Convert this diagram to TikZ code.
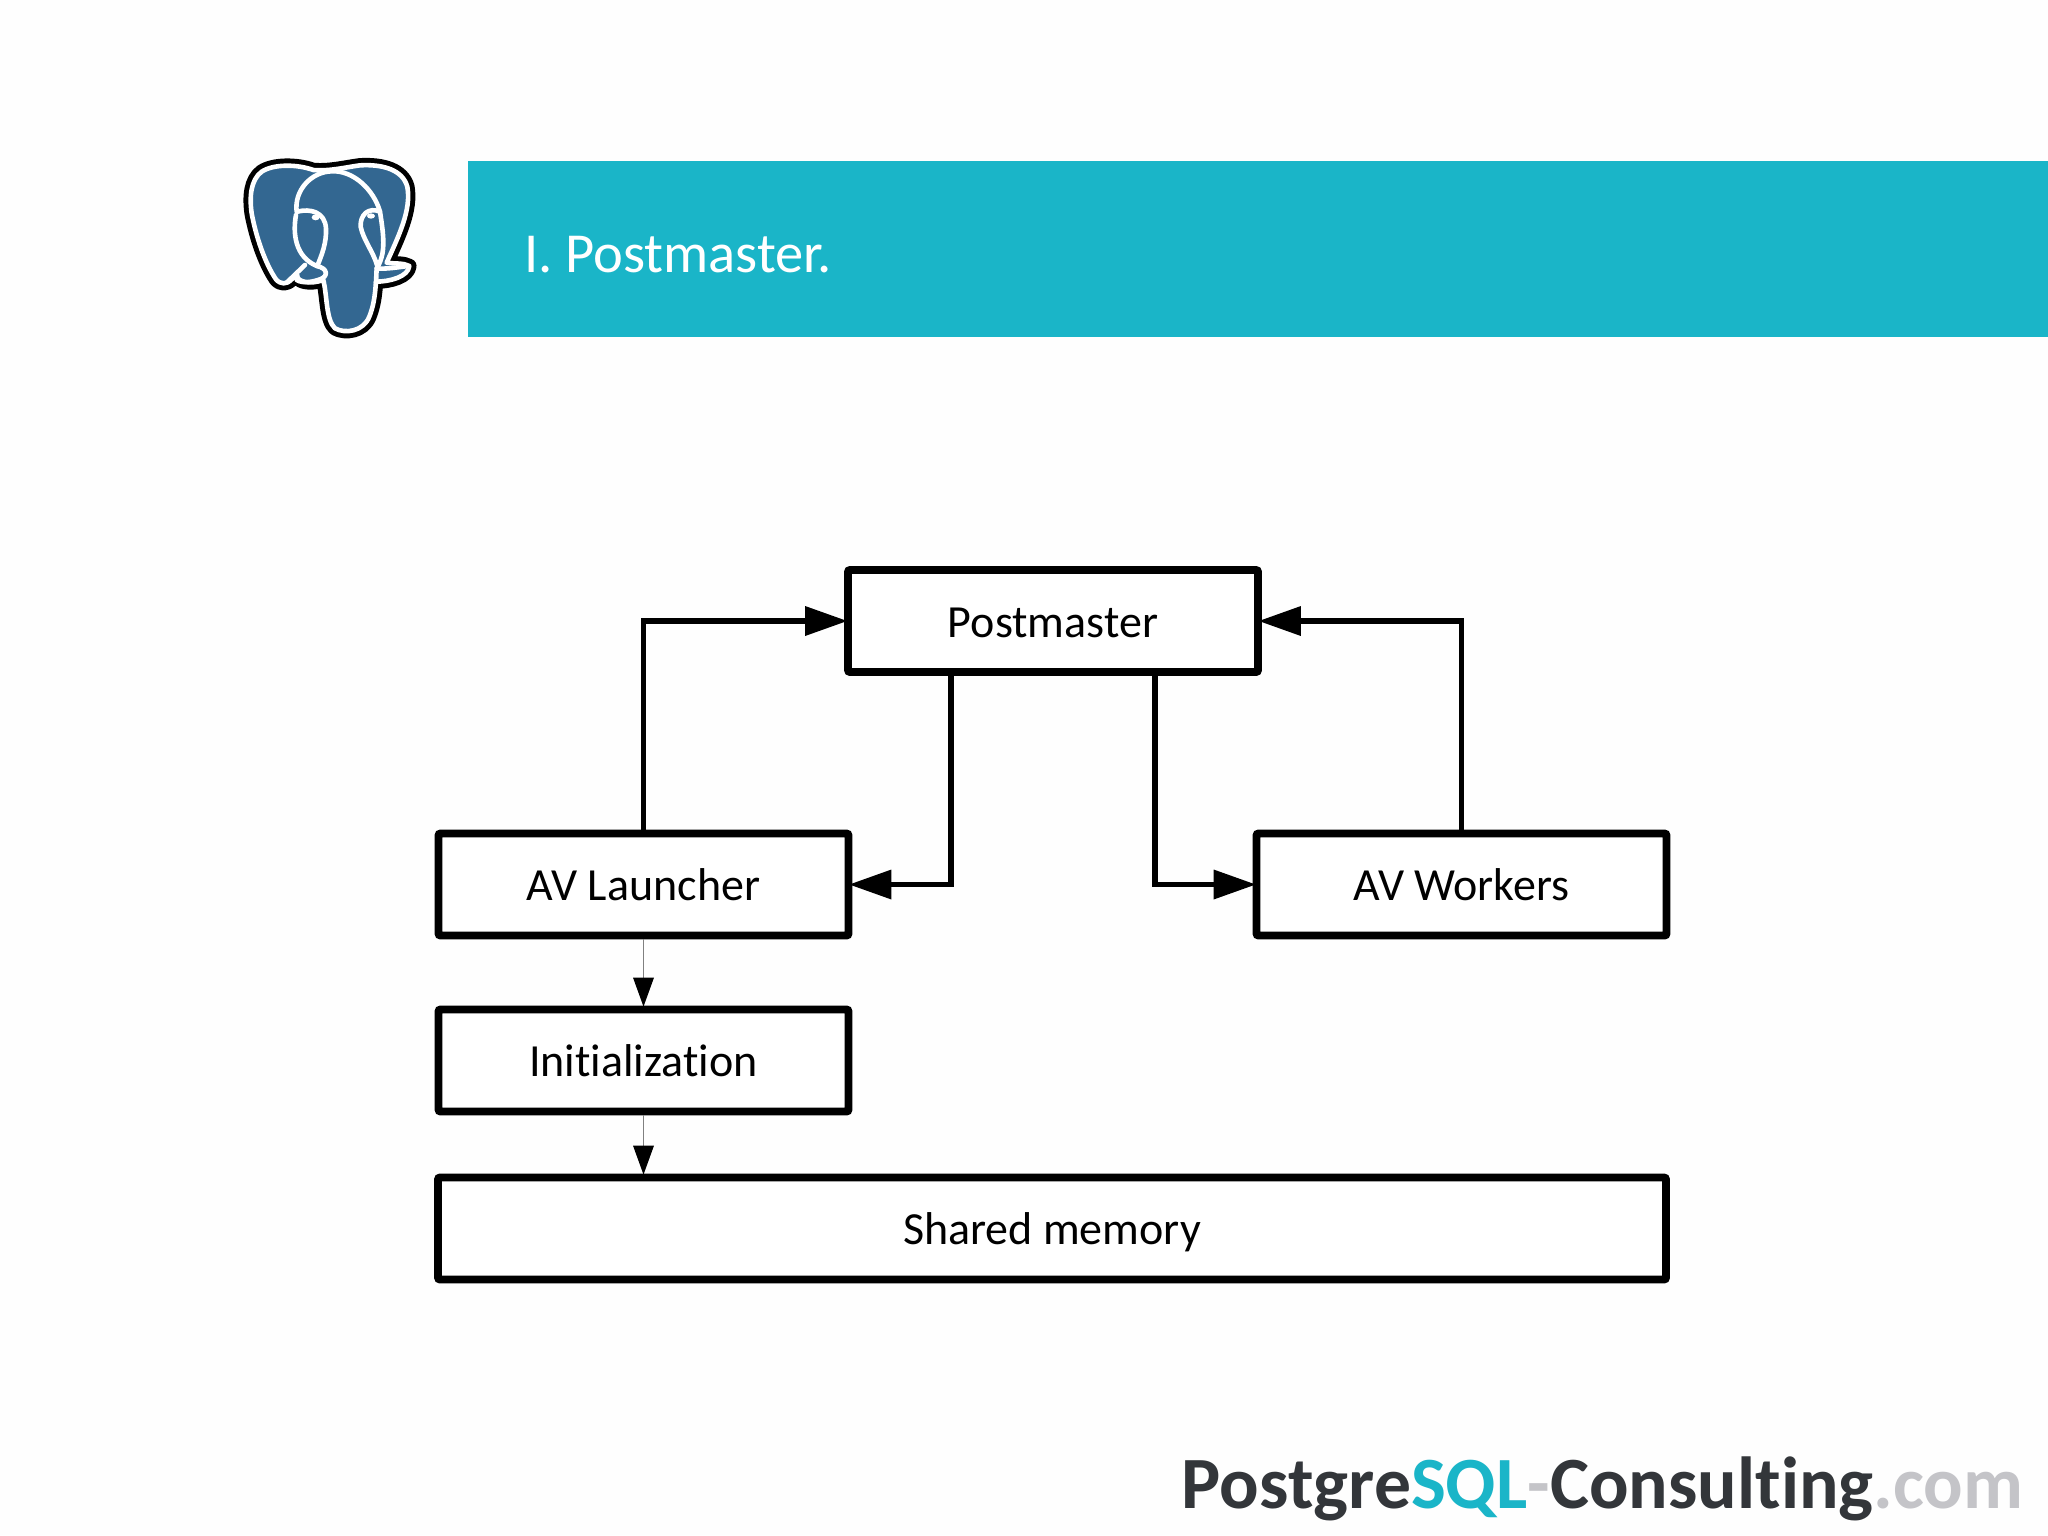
\documentclass[tikz,border=0pt]{standalone}
\usepackage{fontspec}
\setmainfont[Ligatures=NoCommon]{Carlito}
\usetikzlibrary{arrows.meta}
\definecolor{barteal}{RGB}{26,181,200}
\definecolor{pgblue}{RGB}{51,103,145}
\definecolor{logodark}{RGB}{51,54,58}
\definecolor{logogray}{RGB}{196,196,200}
\tikzset{
  procbox/.style={draw=black,line width=7.8pt,fill=white,minimum height=102pt,rounded corners=2pt,
    font=\fontsize{46}{50}\selectfont,text=black,inner sep=0pt,text height=40pt,text depth=8pt},
  smallbox/.style={procbox,minimum width=410pt},
  bigarrow/.style={line width=5.5pt,shorten >=-3pt,-{Triangle[length=42pt,width=30pt,line width=0pt]}},
  thinarrow/.style={draw=gray,line width=1pt,shorten >=-1pt,-{Triangle[length=29pt,width=21pt,line width=0pt,color=black,fill=black]}},
  pgoutline/.style={line join=round,line cap=round},
  pgline/.style={draw=white,line width=4.6pt,line join=round,line cap=round}
}
\begin{document}
\begin{tikzpicture}[x=1pt,y=-1pt]
\useasboundingbox (0,0) rectangle (2048,1535);
\fill[white!99.5!black] (0,0) rectangle (2048,1535);

\fill[barteal] (467.5,160.5) rectangle (2048,337);
\node[anchor=base west,text=white,font=\fontsize{56.5}{60}\selectfont,inner sep=0pt] (title) at (524,272) {I. Postmaster.};

% elephant
\begin{scope}[shift={(220,140)},x=0.3333pt,y=-0.3333pt]
\def\pgbody{(280,90) .. controls (230,72) and (160,72) .. (125,95)
  .. controls (92,120) and (88,170) .. (95,220)
  .. controls (108,290) and (135,370) .. (168,418)
  .. controls (182,434) and (200,434) .. (215,418)
  -- (232,405) .. controls (228,425) and (270,435) .. (310,420)
  .. controls (322,470) and (318,540) .. (345,565)
  .. controls (375,582) and (430,575) .. (448,530)
  .. controls (460,500) and (465,470) .. (468,425)
  .. controls (510,425) and (565,410) .. (568,378)
  .. controls (550,368) and (525,372) .. (500,368)
  .. controls (535,290) and (575,210) .. (562,140)
  .. controls (548,90) and (490,72) .. (420,76)
  .. controls (375,82) and (330,94) .. (280,90) -- cycle}
\draw[black,line width=14.5pt,pgoutline] \pgbody;
\draw[pgline,fill=pgblue] \pgbody;
\draw[pgline] (230,215) .. controls (222,150) and (275,95) .. (335,94)
  .. controls (400,90) and (462,150) .. (480,215)
  .. controls (490,280) and (500,340) .. (470,385) -- (468,430);
\draw[pgline] (232,215) .. controls (270,205) and (315,215) .. (318,265)
  .. controls (320,310) and (305,345) .. (292,378);
\draw[pgline] (228,225) .. controls (218,280) and (225,350) .. (290,378)
  .. controls (325,385) and (325,410) .. (300,418)
  .. controls (280,425) and (250,432) .. (230,420);
\draw[pgline] (480,215) .. controls (445,200) and (420,225) .. (422,260)
  .. controls (430,300) and (460,335) .. (472,378);
\draw[pgline] (470,385) .. controls (500,388) and (530,382) .. (566,378);
\draw[pgline] (200,428) -- (255,375);
\fill[white] (287,232) ellipse (12 and 9);
\fill[white] (453,228) ellipse (12 and 8);
\end{scope}

\node[procbox,minimum width=410pt] (post) at (1053,621) {Postmaster};
\node[smallbox] (lau) at (643.5,884.5) {AV Launcher};
\node[smallbox] (wrk) at (1461.5,884.5) {AV Workers};
\node[smallbox] (init) at (643.5,1060.5) {Initialization};
\node[procbox,minimum width=1228pt] (shm) at (1052,1228.5) {Shared memory};

\draw[bigarrow] (lau.north) |- (post.west);
\draw[bigarrow] (wrk.north) |- (post.east);
\draw[bigarrow] ([xshift=-102pt]post.south) |- (lau.east);
\draw[bigarrow] ([xshift=102pt]post.south) |- (wrk.west);
\draw[thinarrow] (lau.south) -- (init.north);
\draw[thinarrow] (init.south) -- (lau.south |- shm.north);

\node[anchor=base east,font=\fontsize{73.7}{78}\selectfont\bfseries,inner sep=0pt] (logo) at (2023.5,1508)
  {\textcolor{logodark}{Postgre}\textcolor{barteal}{SQL}\textcolor{logogray}{-}\textcolor{logodark}{Consulting}\textcolor{logogray}{.com}};
\end{tikzpicture}
\end{document}
